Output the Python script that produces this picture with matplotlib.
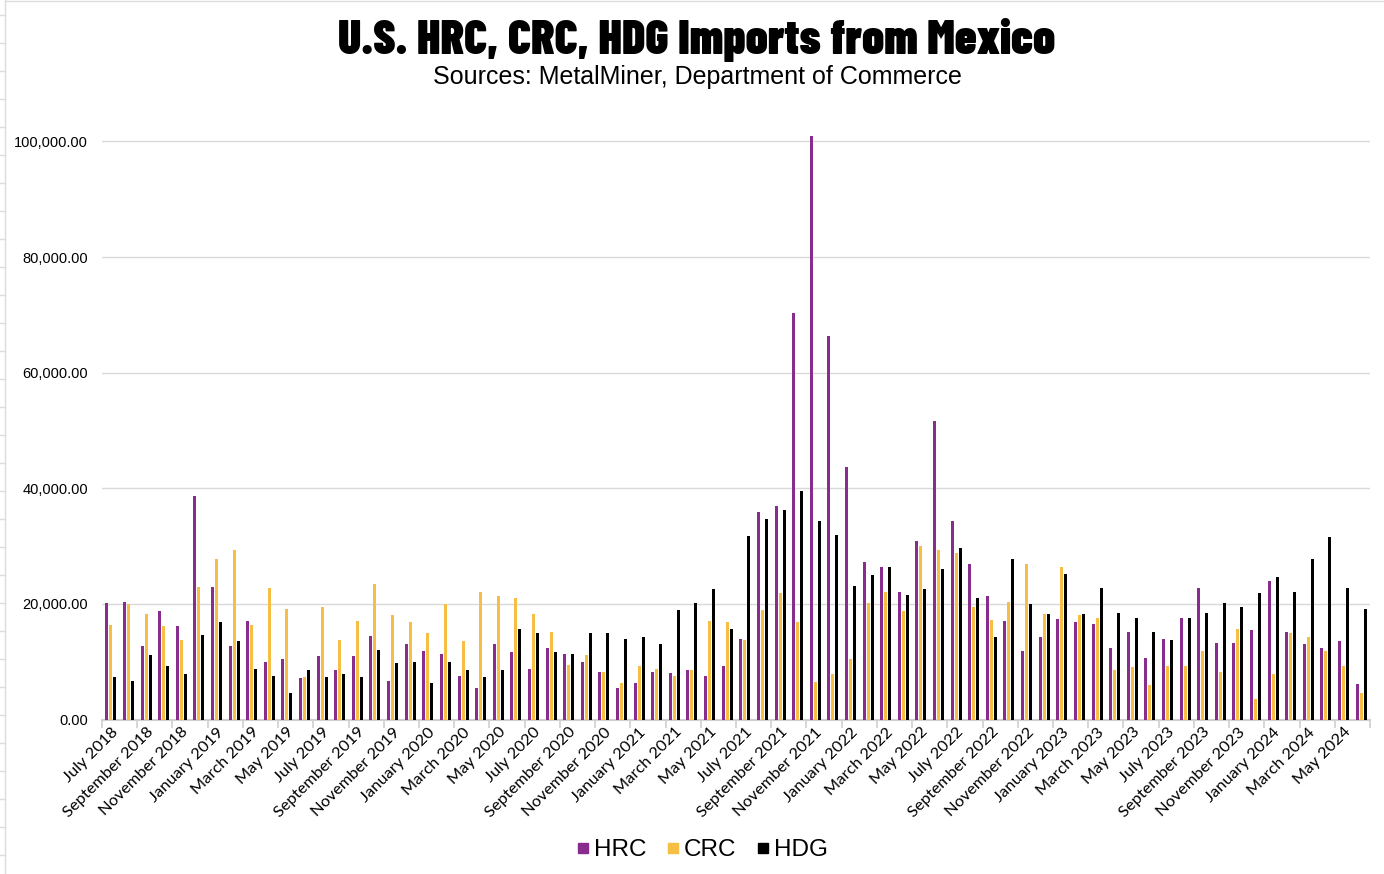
import numpy as np
import matplotlib
matplotlib.use('Agg')
import matplotlib.pyplot as plt
from matplotlib.lines import Line2D
from matplotlib import font_manager

# monthly import volumes, July 2018 .. June 2024 (in tons)
months = ['January', 'February', 'March', 'April', 'May', 'June', 'July',
          'August', 'September', 'October', 'November', 'December']
periods = []
y, m = 2018, 6
for i in range(72):
    periods.append('{0} {1}'.format(months[m], y))
    m += 1
    if m == 12:
        m = 0
        y += 1

hrc = [20.2, 20.4, 12.8, 18.8, 16.1, 38.7, 23.0, 12.8, 17.1, 9.9, 10.4, 7.1,
       10.9, 8.6, 10.9, 14.5, 6.6, 13.0, 11.8, 11.4, 7.6, 5.4, 13.1, 11.6,
       8.8, 12.4, 11.4, 10.0, 8.3, 5.4, 6.4, 8.3, 8.0, 8.5, 7.6, 9.2,
       14.0, 35.9, 36.9, 70.3, 100.9, 66.3, 43.7, 27.3, 26.4, 22.1, 30.9, 51.7,
       34.4, 26.9, 21.4, 17.1, 11.9, 14.2, 17.4, 16.9, 16.6, 12.3, 15.2, 10.7,
       14.0, 17.6, 22.7, 13.3, 13.3, 15.4, 24.0, 15.2, 13.1, 12.3, 13.5, 6.2]
crc = [16.3, 20.0, 18.2, 16.1, 13.8, 23.0, 27.7, 29.4, 16.4, 22.8, 19.2, 7.3,
       19.4, 13.8, 17.1, 23.5, 18.0, 16.9, 15.0, 19.9, 13.5, 22.1, 21.4, 21.1,
       18.2, 15.2, 9.5, 11.1, 8.3, 6.4, 9.3, 8.8, 7.6, 8.5, 17.1, 16.8,
       13.8, 19.0, 21.9, 16.9, 6.5, 7.8, 10.5, 20.2, 22.1, 18.8, 30.1, 29.4,
       28.8, 19.5, 17.3, 20.4, 26.9, 18.3, 26.4, 18.1, 17.6, 8.5, 9.0, 5.9,
       9.2, 9.3, 11.8, 8.3, 15.7, 3.5, 7.8, 14.9, 14.2, 11.8, 9.2, 4.5]
hdg = [7.4, 6.7, 11.2, 9.3, 7.8, 14.7, 16.8, 13.5, 8.8, 7.6, 4.5, 8.6,
       7.4, 7.8, 7.4, 12.1, 9.7, 10.0, 6.4, 10.0, 8.5, 7.4, 8.6, 15.6,
       14.9, 11.6, 11.4, 14.9, 15.0, 14.0, 14.2, 13.1, 19.0, 20.1, 22.5, 15.7,
       31.8, 34.7, 36.2, 39.6, 34.3, 31.9, 23.1, 25.0, 26.4, 21.6, 22.6, 26.1,
       29.7, 21.1, 14.3, 27.8, 20.0, 18.3, 25.2, 18.3, 22.7, 18.5, 17.5, 15.2,
       13.8, 17.6, 18.5, 20.2, 19.5, 21.8, 24.7, 22.0, 27.8, 31.6, 22.8, 19.2]
series_names = ['HRC', 'CRC', 'HDG']
colors = ['#882d8e', '#f6be42', '#000000']

values = [np.array(hrc) * 1000, np.array(crc) * 1000, np.array(hdg) * 1000]
title_text = 'U.S. HRC, CRC, HDG Imports from Mexico'

installed = set(f.name for f in font_manager.fontManager.ttflist)
label_font = 'Lato' if 'Lato' in installed else 'DejaVu Sans'
plain_font = 'Liberation Sans'

# heavy condensed face for the title
title_prop = font_manager.FontProperties(family=plain_font, weight='bold')
wanted = ['BarlowCondensed-Black.ttf', 'BarlowCondensed-ExtraBold.ttf', 'AsapCondensed-Black.ttf']
files = dict((f.fname.split('/')[-1], f.fname) for f in font_manager.fontManager.ttflist)
for name in wanted:
    if name in files:
        title_prop = font_manager.FontProperties(fname=files[name])
        break

fig = plt.figure(figsize=(13.84, 8.74), dpi=100)
ax = fig.add_axes([102/1384, 154.5/874, 1268/1384, 0.6944])

x = np.arange(len(periods))
offsets = [-0.227, 0.0, 0.227]
for vals, off, col, name in zip(values, offsets, colors, series_names):
    ax.bar(x + off, vals, width=0.17, color=col, label=name, zorder=3)

ax.set_xlim(-0.5, len(periods) - 0.5)
ax.set_ylim(0, 105000)
ax.set_yticks(np.arange(0, 100001, 20000))
ax.set_yticklabels(['{:,.2f}'.format(v) for v in np.arange(0, 100001, 20000)],
                   fontsize=10.5, family=plain_font)
ax.yaxis.grid(True, color='#d9d9d9', linewidth=1, zorder=0)
ax.tick_params(axis='y', length=0, pad=10)

# boundary ticks every two categories, labels on the category itself
ax.set_xticks(np.arange(-0.5, len(periods), 2))
ax.set_xticklabels([])
ax.tick_params(axis='x', which='major', length=6, color='#d0d0d0', width=1.2)
ax.set_xticks(x[::2], minor=True)
ax.set_xticklabels(periods[::2], minor=True, rotation=45, ha='right',
                   rotation_mode='anchor', fontsize=11.8, family=label_font)
ax.tick_params(axis='x', which='minor', length=0, pad=4)

for s in ['top', 'right', 'left']:
    ax.spines[s].set_visible(False)
ax.spines['bottom'].set_color('#d0d0d0')
ax.spines['bottom'].set_linewidth(1.5)

title = fig.text(0.503, 0.954, title_text, ha='center', va='center',
                 fontproperties=title_prop, fontsize=36)
# fit the title to the width it has in the original (about 718 px)
renderer = fig.canvas.get_renderer()
w = title.get_window_extent(renderer).width
title.set_fontsize(min(48, 36 * 718.0 / w))

fig.text(0.504, 0.912, 'Sources: MetalMiner, Department of Commerce', ha='center', va='center',
         fontsize=18, family=plain_font)

handles = [Line2D([], [], marker='s', linestyle='', color=c, markersize=7.5) for c in colors]
fig.legend(handles, series_names, loc='center', bbox_to_anchor=(0.5075, 0.027), ncol=3,
           frameon=False, prop={'family': plain_font, 'size': 17.5},
           handlelength=0.5, handletextpad=0.2, columnspacing=0.85)

# spreadsheet frame at the left edge
fig.add_artist(Line2D([5/1384, 5/1384], [0, 1], color='#dcdcdc', linewidth=1))
fig.add_artist(Line2D([5/1384, 1], [1 - 1/874, 1 - 1/874], color='#dcdcdc', linewidth=1))
for yy in np.arange(15, 874, 28):
    fig.add_artist(Line2D([0, 5/1384], [1 - yy/874, 1 - yy/874], color='#dcdcdc', linewidth=1))

fig.savefig('out.png', dpi=100)
